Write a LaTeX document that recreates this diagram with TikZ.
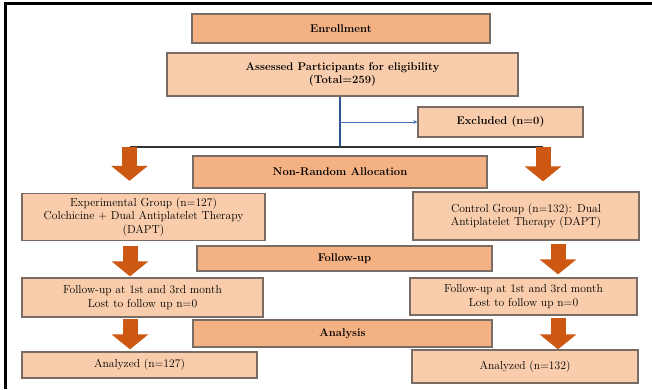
\documentclass[tikz,border=0pt]{standalone}
\usepackage{xcolor}
\usepackage{tikz}
\usetikzlibrary{arrows.meta,positioning,calc}

\definecolor{hdrfill}{RGB}{244,177,131}
\definecolor{grpfill}{RGB}{249,205,172}
\definecolor{boxline}{RGB}{120,108,100}
\definecolor{blkfill}{RGB}{205,88,18}
\definecolor{trunkblue}{RGB}{47,85,151}
\definecolor{thinblue}{RGB}{68,114,196}

\begin{document}
\begin{tikzpicture}[
    x=1pt, y=-1pt,
    hdr/.style={rectangle, draw=boxline, fill=hdrfill, line width=1.3pt, align=center, inner sep=0pt, font=\fontsize{11.2}{13.5}\selectfont\bfseries},
    grp/.style={rectangle, draw=boxline, fill=grpfill, line width=1.3pt, align=center, inner sep=0pt, font=\fontsize{11.6}{13.4}\selectfont},
    blk/.style={draw=blkfill, line width=15pt, -{Triangle[length=0pt 1, width=0pt 2.4]}},
    trunk/.style={draw=trunkblue, line width=2.6pt},
    branch/.style={draw=black!80, line width=1.4pt},
    thinarr/.style={-{Stealth[length=4pt,width=4pt]}, draw=thinblue, line width=0.8pt}
]
    \useasboundingbox (0,0) rectangle (652,389);
    % frame
    \draw [line width=2.5pt] (5.5,389) -- (5.5,3.5) -- (652,3.5);

    % top part
    \node [hdr, minimum width=298pt, minimum height=29pt] (enroll) at (341,28.5) {Enrollment};
    \node [grp, font=\fontsize{11.2}{13.5}\selectfont\bfseries, minimum width=351pt, minimum height=43pt] (assess) at (342.5,74.5) {Assessed Participants for eligibility\\(Total=259)};
    \node [grp, font=\fontsize{11.2}{13.5}\selectfont\bfseries, minimum width=165pt, minimum height=30pt] (excl) at (500.5,122) {Excluded (n=0)};

    % stage headers
    \node [hdr, minimum width=294pt, minimum height=32pt] (alloc) at (340,172) {Non-Random Allocation};
    \node [hdr, minimum width=295pt, minimum height=25pt] (follow) at (344.5,258.5) {Follow-up};
    \node [hdr, minimum width=299pt, minimum height=27pt] (analysis) at (342.5,333.5) {Analysis};

    % groups
    \node [grp, minimum width=243pt, minimum height=47pt] (expg) at (143.5,217) {Experimental Group (n=127)\\Colchicine + Dual Antiplatelet Therapy\\(DAPT)};
    \node [grp, minimum width=226pt, minimum height=48pt] (ctrl) at (526,216) {Control Group (n=132): Dual\\Antiplatelet Therapy (DAPT)};
    \node [grp, minimum width=241pt, minimum height=39pt] (fuL) at (142.5,297.5) {Follow-up at 1st and 3rd month\\Lost to follow up n=0};
    \node [grp, minimum width=227pt, minimum height=37pt] (fuR) at (523.5,296.5) {Follow-up at 1st and 3rd month\\Lost to follow up n=0};
    \node [grp, minimum width=235pt, minimum height=26pt] (anL) at (139.5,365) {Analyzed (n=127)};
    \node [grp, minimum width=226pt, minimum height=33pt] (anR) at (525,366.5) {Analyzed (n=132)};

    \coordinate (split) at (340,147);
    \coordinate (armL) at (129.5,147);
    \coordinate (armR) at (543,147);
    \coordinate (colL) at (130,0);
    \coordinate (colR) at (558,0);

    % connectors
    \draw [trunk] (assess.south -| split) -- (split);
    \draw [thinarr] (excl.west -| split) -- (excl.west);
    \draw [branch] (armL) -- (armR);

    \draw [blk, shorten >=12pt] (armL) -- (armL |- expg.north);
    \draw [blk, shorten >=10pt] (armR) -- (armR |- ctrl.north);
    \draw [blk, shorten <=5pt, shorten >=1pt] (colL |- expg.south) -- (colL |- fuL.north);
    \draw [blk, shorten <=3pt, shorten >=3pt] (colR |- ctrl.south) -- (colR |- fuR.north);
    \draw [blk, shorten <=1pt, shorten >=2pt] (colL |- fuL.south) -- (colL |- anL.north);
    \draw [blk, shorten <=2pt, shorten >=0pt] (colR |- fuR.south) -- (colR |- anR.north);
\end{tikzpicture}
\end{document}
